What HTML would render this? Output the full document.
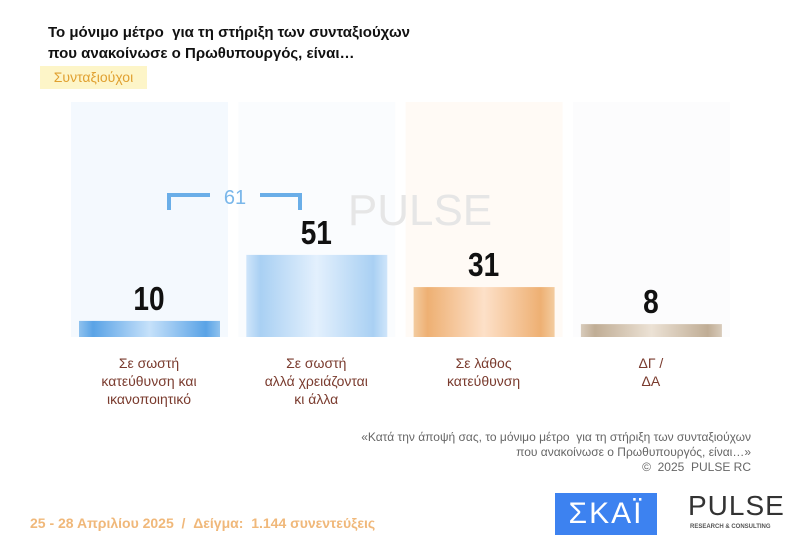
<!DOCTYPE html>
<html><head><meta charset="utf-8"><style>
body{margin:0;width:799px;height:551px;background:#fff;overflow:hidden;font-family:"Liberation Sans","Noto Sans CJK JP",sans-serif;position:relative}
.t{position:absolute}
</style></head><body>
<div class="t" style="left:48px;top:22px;font-size:15px;font-weight:bold;line-height:21px;color:#111">Το μόνιμο μέτρο &nbsp;για τη στήριξη των συνταξιούχων<br>που ανακοίνωσε ο Πρωθυπουργός, είναι…</div>
<div class="t" style="left:40px;top:66px;width:107px;height:23px;background:#fdf5c8;color:#e0a030;font-size:14px;line-height:23px;text-align:center">Συνταξιούχοι</div>
<svg class="t" style="left:0;top:0" width="799" height="551">
<defs>
<linearGradient id="gb" x1="0" x2="1"><stop offset="0" stop-color="#8fc2ee"/><stop offset=".1" stop-color="#5aa3e6"/><stop offset=".5" stop-color="#c6e1fa"/><stop offset=".9" stop-color="#5aa3e6"/><stop offset="1" stop-color="#8fc2ee"/></linearGradient>
<linearGradient id="gl" x1="0" x2="1"><stop offset="0" stop-color="#cfe5fa"/><stop offset=".1" stop-color="#a9d0f3"/><stop offset=".5" stop-color="#e3f0fd"/><stop offset=".9" stop-color="#a9d0f3"/><stop offset="1" stop-color="#cfe5fa"/></linearGradient>
<linearGradient id="go" x1="0" x2="1"><stop offset="0" stop-color="#f3cca0"/><stop offset=".1" stop-color="#eeb073"/><stop offset=".5" stop-color="#fde0c8"/><stop offset=".9" stop-color="#eeb073"/><stop offset="1" stop-color="#f3cca0"/></linearGradient>
<linearGradient id="gg" x1="0" x2="1"><stop offset="0" stop-color="#d8cbbb"/><stop offset=".1" stop-color="#c0ad95"/><stop offset=".5" stop-color="#ece2d5"/><stop offset=".9" stop-color="#c0ad95"/><stop offset="1" stop-color="#d8cbbb"/></linearGradient>
</defs>
<g id="bars"></g>
<g stroke="#6aaee8" stroke-width="4" fill="none">
<path d="M169 210 V195 H210"/><path d="M260 195 H300 V210"/></g>
<text x="235" y="204" font-size="20" fill="#7ab7ea" text-anchor="middle">61</text>
<text x="420" y="225" font-size="44" fill="#e6e6e6" text-anchor="middle">PULSE</text>
</svg>
<div class="t" style="right:48px;top:430px;font-size:12px;line-height:15px;color:#666;text-align:right">«Κατά την άποψή σας, το μόνιμο μέτρο &nbsp;για τη στήριξη των συνταξιούχων<br>που ανακοίνωσε ο Πρωθυπουργός, είναι…»<br>© &nbsp;2025 &nbsp;PULSE RC</div>
<div class="t" style="left:30px;top:515px;font-size:14px;font-weight:bold;color:#f0b87a">25 - 28 Απριλίου 2025 &nbsp;/ &nbsp;Δείγμα: &nbsp;1.144 συνεντεύξεις</div>
<div class="t" style="left:555px;top:493px;width:102px;height:42px;background:#3d82f0;color:#fff;font-size:30px;line-height:42px;text-align:center;letter-spacing:2px">ΣΚΑΪ</div>
<div class="t" style="left:688px;top:490px;font-size:28px;color:#333;letter-spacing:1px">PULSE</div>
<div class="t" style="left:690px;top:524px;font-size:6px;color:#555;font-weight:bold">RESEARCH &amp; CONSULTING</div>
<script>
const categories=["Σε σωστή|κατεύθυνση και|ικανοποιητικό","Σε σωστή|αλλά χρειάζονται|κι άλλα","Σε λάθος|κατεύθυνση","ΔΓ /|ΔΑ"];
const values=[10,51,31,8];
const labels=["10","51","31","8"];
const fills=["url(#gb)","url(#gl)","url(#go)","url(#gg)"];
const bgs=["#f4f9fe","#fafcfe","#fffaf5","#fcfcfd"];
const ns="http://www.w3.org/2000/svg";
const g=document.getElementById("bars");
const base=337,k=1.61;
const y=v=>base-v*k;
const x=i=>79+i*167.3;
values.forEach((v,i)=>{
 const bg=document.createElementNS(ns,"rect");
 
 
 bg.setAttribute("x",x(i)-8);bg.setAttribute("y",102);bg.setAttribute("width",157);bg.setAttribute("height",base-102);bg.setAttribute("fill",bgs[i]);
 g.appendChild(bg);
});
values.forEach((v,i)=>{
 const r=document.createElementNS(ns,"rect");
 
 
 r.setAttribute("x",x(i));r.setAttribute("y",y(v));r.setAttribute("width",141);r.setAttribute("height",v*k);r.setAttribute("fill",fills[i]);
 g.appendChild(r);
 const t=document.createElementNS(ns,"text");
 
 
 t.setAttribute("x",x(i)+70);t.setAttribute("y",y(v)-11);t.setAttribute("text-anchor","middle");t.setAttribute("font-size","33");t.setAttribute("font-weight","bold");t.setAttribute("fill","#111");
 t.setAttribute("transform","translate("+(x(i)+70)+",0) scale(0.85,1) translate("+(-(x(i)+70))+",0)");
 t.textContent=labels[i];g.appendChild(t);
 categories[i].split("|").forEach((ln,j)=>{
  const c=document.createElementNS(ns,"text");
  
  
  c.setAttribute("x",x(i)+70);c.setAttribute("y",368+j*18);c.setAttribute("text-anchor","middle");c.setAttribute("font-size","14");c.setAttribute("fill","#7a3b2e");
  c.textContent=ln;g.appendChild(c);
 });
});
</script>
</body></html>
